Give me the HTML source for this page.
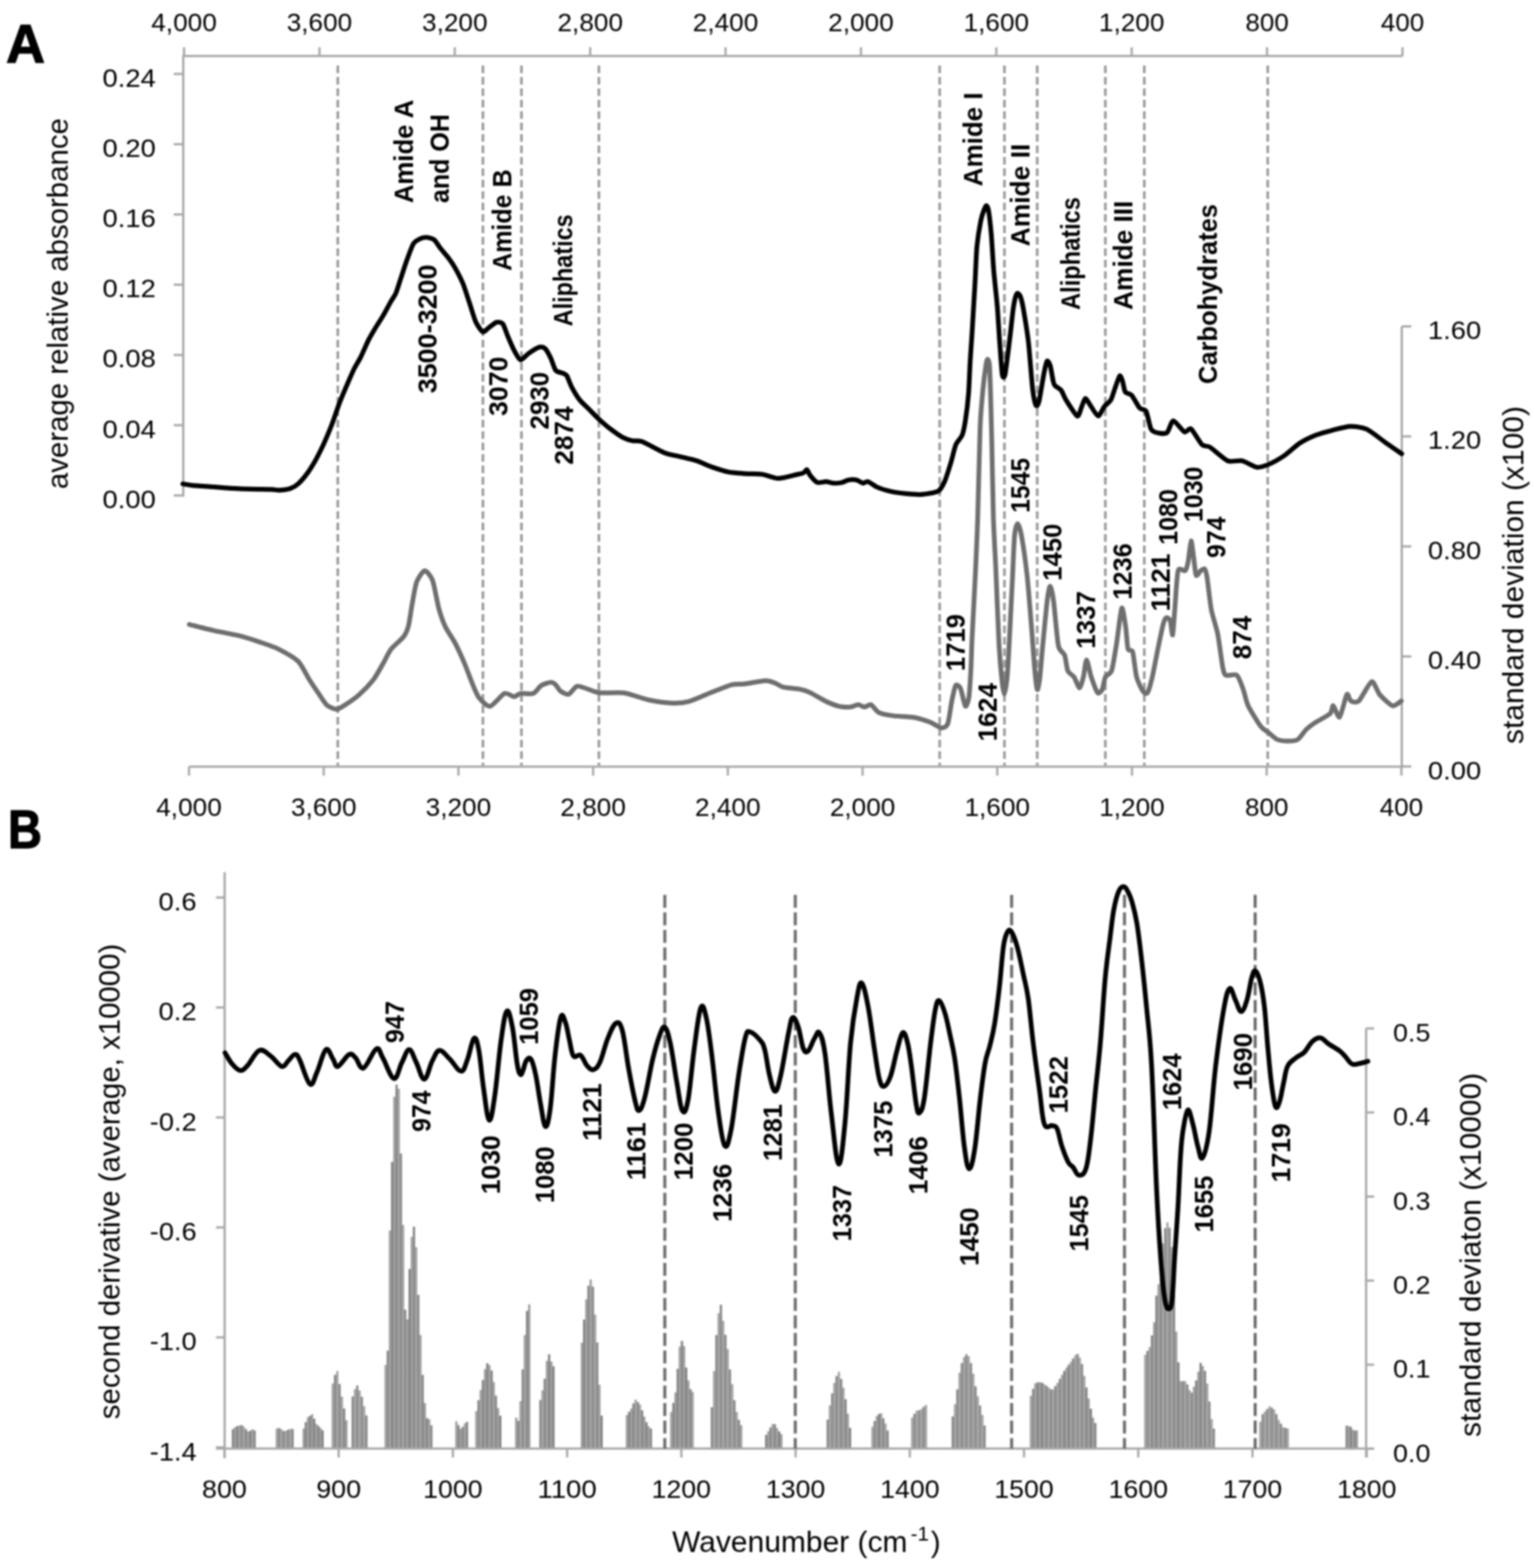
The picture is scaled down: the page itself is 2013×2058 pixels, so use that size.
<!DOCTYPE html><html><head><meta charset="utf-8"><title>FTIR spectra</title><style>html,body{margin:0;padding:0;background:#fff;}svg{display:block;filter:blur(1px);}text{font-family:'Liberation Sans', sans-serif;}</style></head><body>
<svg width="2013" height="2058" viewBox="0 0 2013 2058">
<rect width="2013" height="2058" fill="#fff"/>
<text x="8" y="81.5" font-size="70" text-anchor="start" font-weight="bold" fill="#000" textLength="51" lengthAdjust="spacingAndGlyphs" stroke="#000" stroke-width="1.5">A</text>
<text x="10.5" y="1113" font-size="70" text-anchor="start" font-weight="bold" fill="#000" textLength="44.5" lengthAdjust="spacingAndGlyphs" stroke="#000" stroke-width="1.5">B</text>
<line x1="241.5" y1="73.5" x2="1840.4" y2="73.5" stroke="#a9a9a9" stroke-width="3"/>
<line x1="241.5" y1="62" x2="241.5" y2="73.5" stroke="#a9a9a9" stroke-width="3"/>
<text x="241.5" y="41" font-size="34" text-anchor="middle" textLength="86" lengthAdjust="spacingAndGlyphs">4,000</text>
<line x1="419.2" y1="62" x2="419.2" y2="73.5" stroke="#a9a9a9" stroke-width="3"/>
<text x="419.2" y="41" font-size="34" text-anchor="middle" textLength="86" lengthAdjust="spacingAndGlyphs">3,600</text>
<line x1="596.8" y1="62" x2="596.8" y2="73.5" stroke="#a9a9a9" stroke-width="3"/>
<text x="596.8" y="41" font-size="34" text-anchor="middle" textLength="86" lengthAdjust="spacingAndGlyphs">3,200</text>
<line x1="774.5" y1="62" x2="774.5" y2="73.5" stroke="#a9a9a9" stroke-width="3"/>
<text x="774.5" y="41" font-size="34" text-anchor="middle" textLength="86" lengthAdjust="spacingAndGlyphs">2,800</text>
<line x1="952.1" y1="62" x2="952.1" y2="73.5" stroke="#a9a9a9" stroke-width="3"/>
<text x="952.1" y="41" font-size="34" text-anchor="middle" textLength="86" lengthAdjust="spacingAndGlyphs">2,400</text>
<line x1="1129.8" y1="62" x2="1129.8" y2="73.5" stroke="#a9a9a9" stroke-width="3"/>
<text x="1129.8" y="41" font-size="34" text-anchor="middle" textLength="86" lengthAdjust="spacingAndGlyphs">2,000</text>
<line x1="1307.4" y1="62" x2="1307.4" y2="73.5" stroke="#a9a9a9" stroke-width="3"/>
<text x="1307.4" y="41" font-size="34" text-anchor="middle" textLength="86" lengthAdjust="spacingAndGlyphs">1,600</text>
<line x1="1485.1" y1="62" x2="1485.1" y2="73.5" stroke="#a9a9a9" stroke-width="3"/>
<text x="1485.1" y="41" font-size="34" text-anchor="middle" textLength="86" lengthAdjust="spacingAndGlyphs">1,200</text>
<line x1="1662.7" y1="62" x2="1662.7" y2="73.5" stroke="#a9a9a9" stroke-width="3"/>
<text x="1662.7" y="41" font-size="34" text-anchor="middle" textLength="57" lengthAdjust="spacingAndGlyphs">800</text>
<line x1="1840.4" y1="62" x2="1840.4" y2="73.5" stroke="#a9a9a9" stroke-width="3"/>
<text x="1840.4" y="41" font-size="34" text-anchor="middle" textLength="57" lengthAdjust="spacingAndGlyphs">400</text>
<line x1="248" y1="1006.3" x2="1840.5" y2="1006.3" stroke="#a9a9a9" stroke-width="3"/>
<line x1="248" y1="1006.3" x2="248" y2="1018" stroke="#a9a9a9" stroke-width="3"/>
<text x="248" y="1071" font-size="34" text-anchor="middle" textLength="86" lengthAdjust="spacingAndGlyphs">4,000</text>
<line x1="424.8" y1="1006.3" x2="424.8" y2="1018" stroke="#a9a9a9" stroke-width="3"/>
<text x="424.8" y="1071" font-size="34" text-anchor="middle" textLength="86" lengthAdjust="spacingAndGlyphs">3,600</text>
<line x1="601.6" y1="1006.3" x2="601.6" y2="1018" stroke="#a9a9a9" stroke-width="3"/>
<text x="601.6" y="1071" font-size="34" text-anchor="middle" textLength="86" lengthAdjust="spacingAndGlyphs">3,200</text>
<line x1="778.3" y1="1006.3" x2="778.3" y2="1018" stroke="#a9a9a9" stroke-width="3"/>
<text x="778.3" y="1071" font-size="34" text-anchor="middle" textLength="86" lengthAdjust="spacingAndGlyphs">2,800</text>
<line x1="955.1" y1="1006.3" x2="955.1" y2="1018" stroke="#a9a9a9" stroke-width="3"/>
<text x="955.1" y="1071" font-size="34" text-anchor="middle" textLength="86" lengthAdjust="spacingAndGlyphs">2,400</text>
<line x1="1131.9" y1="1006.3" x2="1131.9" y2="1018" stroke="#a9a9a9" stroke-width="3"/>
<text x="1131.9" y="1071" font-size="34" text-anchor="middle" textLength="86" lengthAdjust="spacingAndGlyphs">2,000</text>
<line x1="1308.7" y1="1006.3" x2="1308.7" y2="1018" stroke="#a9a9a9" stroke-width="3"/>
<text x="1308.7" y="1071" font-size="34" text-anchor="middle" textLength="86" lengthAdjust="spacingAndGlyphs">1,600</text>
<line x1="1485.4" y1="1006.3" x2="1485.4" y2="1018" stroke="#a9a9a9" stroke-width="3"/>
<text x="1485.4" y="1071" font-size="34" text-anchor="middle" textLength="86" lengthAdjust="spacingAndGlyphs">1,200</text>
<line x1="1662.2" y1="1006.3" x2="1662.2" y2="1018" stroke="#a9a9a9" stroke-width="3"/>
<text x="1662.2" y="1071" font-size="34" text-anchor="middle" textLength="57" lengthAdjust="spacingAndGlyphs">800</text>
<line x1="1839" y1="1006.3" x2="1839" y2="1018" stroke="#a9a9a9" stroke-width="3"/>
<text x="1839" y="1071" font-size="34" text-anchor="middle" textLength="57" lengthAdjust="spacingAndGlyphs">400</text>
<line x1="240.5" y1="72" x2="240.5" y2="651.5" stroke="#a9a9a9" stroke-width="3"/>
<line x1="228" y1="650.3" x2="240.5" y2="650.3" stroke="#a9a9a9" stroke-width="3"/>
<text x="204.5" y="666.8" font-size="34" text-anchor="end" textLength="70" lengthAdjust="spacingAndGlyphs">0.00</text>
<line x1="228" y1="558.1" x2="240.5" y2="558.1" stroke="#a9a9a9" stroke-width="3"/>
<text x="204.5" y="574.6" font-size="34" text-anchor="end" textLength="70" lengthAdjust="spacingAndGlyphs">0.04</text>
<line x1="228" y1="465.9" x2="240.5" y2="465.9" stroke="#a9a9a9" stroke-width="3"/>
<text x="204.5" y="482.4" font-size="34" text-anchor="end" textLength="70" lengthAdjust="spacingAndGlyphs">0.08</text>
<line x1="228" y1="373.7" x2="240.5" y2="373.7" stroke="#a9a9a9" stroke-width="3"/>
<text x="204.5" y="390.2" font-size="34" text-anchor="end" textLength="70" lengthAdjust="spacingAndGlyphs">0.12</text>
<line x1="228" y1="281.5" x2="240.5" y2="281.5" stroke="#a9a9a9" stroke-width="3"/>
<text x="204.5" y="298" font-size="34" text-anchor="end" textLength="70" lengthAdjust="spacingAndGlyphs">0.16</text>
<line x1="228" y1="189.3" x2="240.5" y2="189.3" stroke="#a9a9a9" stroke-width="3"/>
<text x="204.5" y="205.8" font-size="34" text-anchor="end" textLength="70" lengthAdjust="spacingAndGlyphs">0.20</text>
<line x1="228" y1="97.1" x2="240.5" y2="97.1" stroke="#a9a9a9" stroke-width="3"/>
<text x="204.5" y="113.6" font-size="34" text-anchor="end" textLength="70" lengthAdjust="spacingAndGlyphs">0.24</text>
<text x="88.5" y="642" font-size="38.5" text-anchor="start" textLength="487" lengthAdjust="spacingAndGlyphs" transform="rotate(-90 88.5 642)">average relative absorbance</text>
<line x1="1839.5" y1="428.5" x2="1839.5" y2="1007.8" stroke="#a9a9a9" stroke-width="3"/>
<line x1="1839.5" y1="1006" x2="1852" y2="1006" stroke="#a9a9a9" stroke-width="3"/>
<text x="1873.8" y="1022.5" font-size="34" text-anchor="start" textLength="70" lengthAdjust="spacingAndGlyphs">0.00</text>
<line x1="1839.5" y1="861.6" x2="1852" y2="861.6" stroke="#a9a9a9" stroke-width="3"/>
<text x="1873.8" y="878.1" font-size="34" text-anchor="start" textLength="70" lengthAdjust="spacingAndGlyphs">0.40</text>
<line x1="1839.5" y1="717.2" x2="1852" y2="717.2" stroke="#a9a9a9" stroke-width="3"/>
<text x="1873.8" y="733.7" font-size="34" text-anchor="start" textLength="70" lengthAdjust="spacingAndGlyphs">0.80</text>
<line x1="1839.5" y1="572.8" x2="1852" y2="572.8" stroke="#a9a9a9" stroke-width="3"/>
<text x="1873.8" y="589.3" font-size="34" text-anchor="start" textLength="70" lengthAdjust="spacingAndGlyphs">1.20</text>
<line x1="1839.5" y1="428.4" x2="1852" y2="428.4" stroke="#a9a9a9" stroke-width="3"/>
<text x="1873.8" y="444.9" font-size="34" text-anchor="start" textLength="70" lengthAdjust="spacingAndGlyphs">1.60</text>
<text x="1999" y="976.5" font-size="38.5" text-anchor="start" textLength="443.5" lengthAdjust="spacingAndGlyphs" transform="rotate(-90 1999 976.5)">standard deviation (x100)</text>
<line x1="443.3" y1="86" x2="443.3" y2="1004.8" stroke="#999" stroke-width="3.4" stroke-dasharray="10 5"/>
<line x1="633.7" y1="86" x2="633.7" y2="1004.8" stroke="#999" stroke-width="3.4" stroke-dasharray="10 5"/>
<line x1="684.3" y1="86" x2="684.3" y2="1004.8" stroke="#999" stroke-width="3.4" stroke-dasharray="10 5"/>
<line x1="785.9" y1="86" x2="785.9" y2="1004.8" stroke="#999" stroke-width="3.4" stroke-dasharray="10 5"/>
<line x1="1233.1" y1="86" x2="1233.1" y2="1004.8" stroke="#999" stroke-width="3.4" stroke-dasharray="10 5"/>
<line x1="1318.1" y1="86" x2="1318.1" y2="1004.8" stroke="#999" stroke-width="3.4" stroke-dasharray="10 5"/>
<line x1="1361.1" y1="86" x2="1361.1" y2="1004.8" stroke="#999" stroke-width="3.4" stroke-dasharray="10 5"/>
<line x1="1450.5" y1="86" x2="1450.5" y2="1004.8" stroke="#999" stroke-width="3.4" stroke-dasharray="10 5"/>
<line x1="1501.6" y1="86" x2="1501.6" y2="1004.8" stroke="#999" stroke-width="3.4" stroke-dasharray="10 5"/>
<line x1="1663.6" y1="86" x2="1663.6" y2="1004.8" stroke="#999" stroke-width="3.4" stroke-dasharray="10 5"/>
<path d="M248.4,819.6 C252.3,820.6 274.4,826.3 282,828 C289.6,829.7 306.6,832.6 313.5,834.3 C320.4,836 334.7,840.6 340.8,842.7 C346.9,844.8 360.1,849.2 366,852.2 C371.9,855.2 386.6,863.3 391.3,868 C396,872.7 402.8,887.1 406,892.1 C409.2,897.1 415.9,907.1 418.6,911 C421.3,914.9 426.4,923.4 429.1,925.7 C431.8,928 439,931 441.7,931 C444.4,931 448.8,927.9 452.2,925.7 C455.6,923.5 466.7,915.9 471.1,912 C475.5,908.1 486.3,896.9 490,892.1 C493.7,887.3 499.9,875.8 502.6,871.1 C505.3,866.4 509.9,856.4 513.1,852.2 C516.3,848 527.2,839.1 529.9,835.4 C532.6,831.7 535,825.4 536.2,820.7 C537.4,816 539.2,802.1 540.4,795.5 C541.6,788.9 544.7,769.4 546.7,764 C548.7,758.6 554.8,749.5 557.2,749.2 C559.7,748.9 565.5,755.9 567.7,761.8 C569.9,767.7 574.1,792.6 576.1,799.7 C578.1,806.8 582,817.7 584.5,822.8 C587,827.9 594.2,838.2 597.1,843.8 C600,849.4 607,864.7 609.7,871.1 C612.4,877.5 618.1,893.2 620.3,898.4 C622.5,903.6 625.7,912.2 628.4,915.5 C631.1,918.8 639.2,927.6 643.1,927 C647,926.4 658.3,911.7 662,910.2 C665.7,908.7 672.1,914.4 674.6,914.4 C677.1,914.4 680.1,910.7 683,910.2 C685.9,909.7 696.6,911.4 699.8,910.2 C703,909 707.6,901.4 710.3,899.7 C713,898 720.7,895.6 722.9,895.5 C725.1,895.4 727.7,897.3 729.2,898.7 C730.7,900.1 733.5,905.6 735.5,907.1 C737.5,908.6 743.5,912 746,911.3 C748.5,910.6 754.1,901.8 756.6,900.8 C759.1,899.8 763.7,901.9 767.1,902.9 C770.5,903.9 779.9,908.4 786,909.2 C792.1,910 812,908.5 819.6,909.6 C827.2,910.7 843.8,917.1 851.1,918.6 C858.5,920.1 876.5,922.6 882.6,922.8 C888.7,923 897.5,922.4 903.6,920.7 C909.7,919 928.5,910.7 935.1,908.1 C941.7,905.5 955.4,899.9 960.3,898.7 C965.2,897.5 971.9,898.2 977.1,897.6 C982.3,897 999.9,893.5 1004.5,893.4 C1009.1,893.3 1014.1,895.4 1016.8,896.4 C1019.5,897.4 1023.4,900.7 1027.3,901.7 C1031.2,902.7 1046.2,903.9 1050.4,904.8 C1054.6,905.7 1059.1,907.2 1063,909 C1066.9,910.8 1079.6,918.5 1084,920.6 C1088.4,922.7 1097.1,926 1100.8,926.9 C1104.5,927.8 1112.6,928.2 1115.5,928 C1118.4,927.8 1123.8,924.8 1126,924.8 C1128.2,924.8 1132.5,928 1134.5,928 C1136.5,928 1140.7,923.9 1142.9,924.8 C1145.1,925.7 1150,933.6 1153.4,935.3 C1156.8,937 1166.9,938.8 1172.3,939.5 C1177.7,940.2 1194,940.6 1199.6,941.6 C1205.2,942.6 1216.4,946.3 1220.6,947.9 C1224.8,949.5 1232.6,955.1 1235.3,955.3 C1238,955.5 1242.1,954 1243.7,950 C1245.3,946 1247.7,926.5 1248.9,920.6 C1250.1,914.7 1252.8,901.6 1254.2,899.6 C1255.6,897.6 1259,900.6 1260.5,903.8 C1262,907 1265.5,925.6 1266.8,926.9 C1268.1,928.2 1270.7,920.5 1271.5,915 C1272.3,909.5 1273.5,888.8 1274,880 C1274.5,871.2 1275.1,848.8 1275.5,840 C1275.9,831.2 1276.7,816.4 1277.3,805 C1277.9,793.6 1279.8,756.6 1280.5,742 C1281.2,727.4 1282.3,701.2 1283,680 C1283.7,658.8 1285.4,579.8 1286.2,560 C1287,540.2 1289.1,519.6 1290,510 C1290.9,500.4 1293.3,482.5 1294,478 C1294.7,473.5 1295.7,471.3 1296.2,471.5 C1296.7,471.7 1298,472 1298.5,480 C1299,488 1300.2,528.3 1300.5,540 C1300.8,551.7 1301.1,563.7 1301.5,580 C1301.9,596.3 1303,660.8 1303.6,680 C1304.2,699.2 1305.8,725.3 1306.7,744.8 C1307.6,764.3 1310,829.5 1311,847 C1312,864.5 1314.2,887.5 1315,895 C1315.8,902.5 1317.3,911.2 1318,911.2 C1318.7,911.2 1320.4,900 1321,895 C1321.6,890 1322.2,883.2 1323.1,868.1 C1324,853 1327.3,784.6 1328.3,765.4 C1329.3,746.2 1330.5,712.9 1331.3,703.8 C1332.1,694.7 1334.4,687.3 1335.5,687.3 C1336.6,687.3 1339.2,695.9 1340.6,703.8 C1342,711.7 1346.2,740.7 1347.8,755.1 C1349.4,769.5 1352.8,813 1353.9,827 C1355,841 1356.7,865.9 1357.5,875 C1358.3,884.1 1360.3,903.2 1361.1,905 C1361.9,906.8 1363.7,896.7 1364.5,890 C1365.3,883.3 1367.1,859.6 1368.3,847.5 C1369.5,835.4 1373.3,795 1374.5,785.9 C1375.7,776.8 1377.2,769 1378.2,769.5 C1379.2,770 1381.5,780.9 1382.7,790 C1383.9,799.1 1387.2,839.3 1388.9,847.5 C1390.6,855.7 1395.7,856.1 1397.1,859.9 C1398.5,863.7 1399.8,877.1 1401.2,880.4 C1402.6,883.7 1407.6,886 1409.4,888.6 C1411.2,891.2 1415.2,903 1416.6,903 C1418,903 1420.6,892.9 1421.7,888.6 C1422.8,884.3 1424.6,866 1425.8,866 C1427,866 1430.3,883.6 1432,888.6 C1433.7,893.6 1438.5,907.3 1440.2,909.2 C1441.9,911.1 1445.2,907.4 1446.4,905 C1447.6,902.6 1449.1,891.5 1450.5,888.6 C1451.9,885.7 1457,885.2 1458.7,880.4 C1460.4,875.6 1463.2,857.1 1464.8,847.5 C1466.4,837.9 1470.6,801.1 1472,798.2 C1473.4,795.3 1476.2,816.7 1477.2,822.9 C1478.2,829.1 1479.1,847.8 1480.2,851.6 C1481.3,855.4 1485.1,851.5 1486.4,855.8 C1487.7,860.1 1489.9,882.6 1491.5,888.6 C1493.1,894.6 1498.1,904.7 1499.8,907.1 C1501.5,909.5 1504.5,911.4 1505.9,909.2 C1507.3,907 1510.4,895.8 1512.1,888.6 C1513.8,881.4 1518.6,855.6 1520.3,847.5 C1522,839.4 1525.3,823.1 1526.5,818.8 C1527.7,814.5 1529.5,811.1 1530.6,810.6 C1531.7,810.1 1534.7,812.1 1535.7,814.7 C1536.7,817.3 1538.1,835.4 1538.8,833.2 C1539.5,831 1541.1,806 1541.9,796.2 C1542.7,786.4 1544.4,754.5 1546,749 C1547.6,743.5 1553.6,750.4 1555.2,749 C1556.8,747.6 1558.4,741.2 1559.3,736.6 C1560.2,732 1562.2,710.4 1563,709.9 C1563.8,709.4 1565.7,727.2 1566.5,732.5 C1567.3,737.8 1568.5,753.2 1569.6,755.1 C1570.7,757 1574.4,750 1575.7,749 C1577,748 1579.9,745.9 1580.9,746.9 C1581.9,747.9 1583,751.7 1584,757.9 C1585,764.1 1587.9,791.4 1589.5,800 C1591.1,808.6 1596.2,823 1597.9,831.6 C1599.6,840.2 1603,867.3 1604.2,873.7 C1605.4,880.1 1606.2,884.8 1608.4,886.3 C1610.6,887.8 1620.5,884.1 1623.2,886.3 C1625.9,888.5 1629.9,900.6 1631.6,905.3 C1633.3,910 1635.2,920.7 1637.9,926.3 C1640.6,931.9 1651.5,949.5 1654.7,953.7 C1657.9,957.9 1662.8,960.1 1665.3,962.1 C1667.8,964.1 1672.9,969.3 1675.8,970.5 C1678.7,971.7 1687.3,972.6 1690.5,972.6 C1693.7,972.6 1700.5,972.2 1703.2,970.5 C1705.9,968.8 1711.2,960.4 1713.7,957.9 C1716.2,955.4 1720.5,952 1724.2,949.5 C1727.9,947 1742.3,939.5 1745.3,936.8 C1748.3,934.1 1748,925.8 1749.5,926.3 C1751,926.8 1755.8,942.8 1757.9,941.1 C1760,939.4 1765.7,914.1 1767.4,911.6 C1769.1,909.1 1770.8,919 1772.6,920 C1774.4,921 1780,923 1783.2,920 C1786.4,917 1796.8,895.7 1800,894.7 C1803.2,893.7 1807.3,907.9 1810.5,911.6 C1813.7,915.3 1824.1,925.3 1827.4,926.3 C1830.7,927.3 1837.6,920.7 1838.9,920" fill="none" stroke="#6e6e6e" stroke-width="6.2" stroke-linejoin="round" stroke-linecap="round"/>
<path d="M240,635 C241.5,635.2 247.7,636.6 252.6,637.1 C257.5,637.6 274.9,638.7 282,639.2 C289.1,639.7 304.9,640.9 313.5,641.3 C322.1,641.7 349.4,642.2 355.5,642.4 C361.6,642.6 363,643.5 366,643.4 C369,643.3 377.8,642.3 380.8,641.3 C383.8,640.3 388.6,637.5 391.3,635 C394,632.5 401.2,624 403.9,620.3 C406.6,616.6 411.9,607.9 414.4,603.5 C416.8,599.1 422.4,587.9 424.9,582.5 C427.3,577.1 432.9,563.7 435.4,557.3 C437.8,550.9 443.4,534.3 445.9,527.9 C448.3,521.5 454.2,507.8 456.4,502.7 C458.6,497.6 462.8,487.7 464.8,483.8 C466.8,479.9 471,473.4 473.2,469 C475.4,464.6 481.5,450.4 483.7,446 C485.9,441.6 489.9,435 492.1,431.3 C494.3,427.6 500.2,418.7 502.6,414.5 C505.1,410.3 511.1,398.9 513.1,395.5 C515.1,392.1 517.9,388.4 519.4,385 C520.9,381.6 524,371.2 525.7,366.1 C527.4,361 532.1,346.3 534.1,340.9 C536.1,335.5 540.5,323.1 542.5,319.9 C544.5,316.7 548.9,314.6 550.9,313.6 C552.9,312.6 557.1,311.4 559.3,311.5 C561.5,311.6 567.6,313 569.8,314.7 C572,316.4 576,323.4 578.2,326.2 C580.4,329 586.5,335.9 588.7,338.8 C590.9,341.7 594.9,347.5 597.1,351.4 C599.3,355.3 605.4,367 607.6,372.4 C609.8,377.8 614.1,391.7 616.1,397.6 C618.1,403.5 622.4,418.5 624.5,422.9 C626.6,427.3 631.8,434.8 633.7,435.7 C635.6,436.6 638.9,431.9 641,430.4 C643.1,428.9 649.3,423.6 651.5,423 C653.7,422.4 658.2,423.1 659.9,425.2 C661.6,427.3 664.5,436.9 666.2,440.9 C667.9,444.9 672.6,456.1 674.6,459.8 C676.6,463.5 680.8,471.9 683,472.4 C685.2,472.9 690.6,466 693.5,464 C696.4,462 705.6,456.3 708.2,455.6 C710.8,454.9 713.9,456 715.6,457.7 C717.3,459.4 721.3,467 722.9,470.3 C724.5,473.6 727.2,483.8 729.2,486.1 C731.2,488.4 738,489.4 739.7,490.3 C741.4,491.2 742.8,491.3 744,493.4 C745.2,495.5 748.3,504.5 750.3,508.2 C752.3,511.9 758.1,521.6 760.8,525 C763.5,528.4 770.5,534.7 773.4,537.6 C776.3,540.5 782.8,547.3 786,550.2 C789.2,553.1 797,560 800.7,562.8 C804.4,565.6 814.1,572.5 817.5,574.3 C820.9,576.1 827.2,577.9 830.1,578.5 C833,579.1 837.8,577.8 842.7,579.6 C847.6,581.4 866.2,592 872.1,594.3 C878,596.6 888.2,598.3 893.1,599.5 C898,600.7 909.2,603.2 914.1,604.8 C919,606.4 930.2,611.5 935.1,613.2 C940,614.9 951.2,618.5 956.1,619.5 C961,620.5 972,621.2 977.1,621.6 C982.2,622 994.9,621.8 1000,622.5 C1005.1,623.2 1016.1,627.8 1021,627.9 C1025.9,628 1038.1,624.6 1042,623.7 C1045.9,622.8 1052.6,621.4 1054.6,620.5 C1056.6,619.6 1057.8,615.9 1058.8,616.3 C1059.8,616.7 1061.4,621.7 1063,623.7 C1064.6,625.7 1070,632.2 1072.5,633.2 C1075,634.2 1081.4,632 1084,632.1 C1086.6,632.2 1092,634.1 1094.5,634.2 C1097,634.3 1102.8,633.7 1105,633.2 C1107.2,632.7 1111.2,630.4 1113.4,630 C1115.6,629.6 1121.8,629.5 1124,630 C1126.2,630.5 1130.7,634 1132.4,634.2 C1134.1,634.4 1136.5,631.5 1138.7,632.1 C1140.9,632.7 1147.9,638 1151.3,639.5 C1154.7,641 1163.6,643.7 1168,644.7 C1172.4,645.7 1184.1,647.4 1189,647.9 C1193.9,648.4 1205.1,649.3 1210,648.9 C1214.9,648.5 1227.6,646.7 1231,644.7 C1234.4,642.7 1237.5,636.5 1239.5,632.1 C1241.5,627.7 1246.2,612.5 1247.9,606.9 C1249.6,601.3 1252.5,588 1254.2,583.8 C1255.9,579.6 1261.1,574.9 1262.6,571.2 C1264.1,567.5 1265.8,558.7 1266.8,552.3 C1267.8,545.9 1270.3,525.7 1271,516.6 C1271.7,507.5 1272.6,483.1 1273.1,474.5 C1273.6,465.9 1274.7,450.5 1275.2,443 C1275.7,435.5 1276.7,418.4 1277.2,410 C1277.7,401.6 1278.9,380.7 1279.5,370.6 C1280.1,360.5 1281.1,332.7 1282,323.3 C1282.9,313.9 1285.9,295.6 1287,290 C1288.1,284.4 1290.6,277.3 1291.5,275 C1292.4,272.7 1293.8,269.6 1294.5,270 C1295.2,270.4 1296.8,273.6 1297.5,278 C1298.2,282.4 1300,298.6 1300.8,307.6 C1301.6,316.6 1303.1,343.8 1304,354.8 C1304.9,365.8 1307.8,390.9 1308.7,402 C1309.6,413.1 1311.1,439.5 1311.9,450 C1312.7,460.5 1314.5,487.1 1315.3,492 C1316.1,496.9 1318,495.1 1318.8,492 C1319.6,488.9 1321.7,471.1 1322.5,465 C1323.3,458.9 1324.8,446.4 1325.6,440 C1326.4,433.6 1328.3,415.6 1329,410 C1329.7,404.4 1331.3,394.9 1332,392 C1332.7,389.1 1334.2,385.5 1335,385 C1335.8,384.5 1337.7,386.5 1338.5,388 C1339.3,389.5 1340.7,394.5 1341.5,398 C1342.3,401.5 1344,411.7 1345,417.8 C1346,423.9 1348.5,439.2 1349.7,450 C1350.9,460.8 1353.9,500.4 1355,510 C1356.1,519.6 1358.4,530 1359.4,532 C1360.4,534 1362.2,531.7 1363.4,527 C1364.6,522.3 1368.5,497.5 1369.7,491.3 C1370.9,485.1 1373,475.3 1374,474 C1375,472.7 1377.3,477 1378.2,480 C1379.1,483 1381.3,497 1382,500 C1382.7,503 1383,504.6 1384.2,506 C1385.4,507.4 1390.9,510.2 1392.6,512.4 C1394.3,514.6 1396.5,521.1 1398.9,525 C1401.4,528.9 1411.3,544.8 1413.6,546 C1415.9,547.2 1417.8,537.7 1419,535 C1420.2,532.3 1422.8,523.3 1424.1,522.9 C1425.4,522.5 1428.4,528.6 1430.4,531.3 C1432.4,534 1438.7,545.8 1440.9,546 C1443.1,546.2 1447.3,535.9 1449.3,533.4 C1451.3,530.9 1456.1,527.7 1457.7,525 C1459.3,522.3 1461.6,513.7 1463,510 C1464.4,506.3 1468.1,494.6 1469.3,493.4 C1470.5,492.2 1472.1,497.5 1473,500 C1473.9,502.5 1475.2,512.3 1476.6,514.5 C1478,516.7 1482.8,516.2 1485,518.7 C1487.2,521.2 1493.3,533 1495.5,535.5 C1497.7,538 1502.3,536.5 1504,539.7 C1505.7,542.9 1508.6,559.5 1510.3,562.8 C1512,566.1 1516.2,567.4 1518.7,568 C1521.2,568.6 1528.8,569.8 1531.3,568 C1533.8,566.2 1537,552.4 1539.7,552.3 C1542.4,552.2 1551.7,565.8 1554.4,567 C1557.1,568.2 1560.1,560.8 1562.8,562.8 C1565.5,564.8 1574.6,581 1577.5,583.8 C1580.4,586.6 1584.1,584.5 1588,587 C1591.9,589.5 1606.2,602.7 1611.1,604.8 C1616,606.9 1625.6,603.8 1630,604.8 C1634.4,605.8 1645,612.6 1648.9,613.2 C1652.8,613.8 1659.4,611.7 1663.6,610 C1667.8,608.3 1679.7,601.8 1684.6,598.5 C1689.5,595.2 1700.7,584.9 1705.6,581.7 C1710.5,578.5 1721.7,573.2 1726.6,571.2 C1731.5,569.2 1742.3,566.2 1747.6,564.9 C1752.9,563.6 1766.6,559.9 1771.9,559.7 C1777.2,559.5 1788,560.8 1793.4,563.3 C1798.8,565.8 1813.2,577.4 1818.6,581.2 C1824,585 1837,593.9 1839.4,595.6" fill="none" stroke="#000" stroke-width="6.2" stroke-linejoin="round" stroke-linecap="round"/>
<text x="542" y="266.5" font-size="35" text-anchor="start" font-weight="bold" fill="#000" textLength="135.6" lengthAdjust="spacingAndGlyphs" transform="rotate(-90 542 266.5)">Amide A</text>
<text x="588.8" y="266.5" font-size="35" text-anchor="start" font-weight="bold" fill="#000" textLength="116.7" lengthAdjust="spacingAndGlyphs" transform="rotate(-90 588.8 266.5)">and OH</text>
<text x="671.3" y="355.5" font-size="35" text-anchor="start" font-weight="bold" fill="#000" textLength="133.1" lengthAdjust="spacingAndGlyphs" transform="rotate(-90 671.3 355.5)">Amide B</text>
<text x="751.1" y="428.3" font-size="35" text-anchor="start" font-weight="bold" fill="#000" textLength="147" lengthAdjust="spacingAndGlyphs" transform="rotate(-90 751.1 428.3)">Aliphatics</text>
<text x="572.9" y="516.3" font-size="35" text-anchor="start" font-weight="bold" fill="#000" textLength="169.3" lengthAdjust="spacingAndGlyphs" transform="rotate(-90 572.9 516.3)">3500-3200</text>
<text x="666.1" y="546" font-size="35" text-anchor="start" font-weight="bold" fill="#000" textLength="78" lengthAdjust="spacingAndGlyphs" transform="rotate(-90 666.1 546)">3070</text>
<text x="719.7" y="563.8" font-size="35" text-anchor="start" font-weight="bold" fill="#000" textLength="75.8" lengthAdjust="spacingAndGlyphs" transform="rotate(-90 719.7 563.8)">2930</text>
<text x="752.2" y="610" font-size="35" text-anchor="start" font-weight="bold" fill="#000" textLength="76.6" lengthAdjust="spacingAndGlyphs" transform="rotate(-90 752.2 610)">2874</text>
<text x="1288.5" y="244.5" font-size="35" text-anchor="start" font-weight="bold" fill="#000" textLength="123.2" lengthAdjust="spacingAndGlyphs" transform="rotate(-90 1288.5 244.5)">Amide I</text>
<text x="1351.1" y="323.3" font-size="35" text-anchor="start" font-weight="bold" fill="#000" textLength="134.7" lengthAdjust="spacingAndGlyphs" transform="rotate(-90 1351.1 323.3)">Amide II</text>
<text x="1417.3" y="406.8" font-size="35" text-anchor="start" font-weight="bold" fill="#000" textLength="148.1" lengthAdjust="spacingAndGlyphs" transform="rotate(-90 1417.3 406.8)">Aliphatics</text>
<text x="1485.9" y="406.8" font-size="35" text-anchor="start" font-weight="bold" fill="#000" textLength="143.4" lengthAdjust="spacingAndGlyphs" transform="rotate(-90 1485.9 406.8)">Amide III</text>
<text x="1596.7" y="504" font-size="35" text-anchor="start" font-weight="bold" fill="#000" textLength="236.2" lengthAdjust="spacingAndGlyphs" transform="rotate(-90 1596.7 504)">Carbohydrates</text>
<text x="1351" y="673" font-size="35" text-anchor="start" font-weight="bold" fill="#000" textLength="72" lengthAdjust="spacingAndGlyphs" transform="rotate(-90 1351 673)">1545</text>
<text x="1393.1" y="762.3" font-size="35" text-anchor="start" font-weight="bold" fill="#000" textLength="75" lengthAdjust="spacingAndGlyphs" transform="rotate(-90 1393.1 762.3)">1450</text>
<text x="1437.3" y="851.6" font-size="35" text-anchor="start" font-weight="bold" fill="#000" textLength="75.9" lengthAdjust="spacingAndGlyphs" transform="rotate(-90 1437.3 851.6)">1337</text>
<text x="1484.5" y="787" font-size="35" text-anchor="start" font-weight="bold" fill="#000" textLength="74" lengthAdjust="spacingAndGlyphs" transform="rotate(-90 1484.5 787)">1236</text>
<text x="1534.8" y="802.4" font-size="35" text-anchor="start" font-weight="bold" fill="#000" textLength="76" lengthAdjust="spacingAndGlyphs" transform="rotate(-90 1534.8 802.4)">1121</text>
<text x="1545.1" y="715" font-size="35" text-anchor="start" font-weight="bold" fill="#000" textLength="73" lengthAdjust="spacingAndGlyphs" transform="rotate(-90 1545.1 715)">1080</text>
<text x="1578" y="685.3" font-size="35" text-anchor="start" font-weight="bold" fill="#000" textLength="72.9" lengthAdjust="spacingAndGlyphs" transform="rotate(-90 1578 685.3)">1030</text>
<text x="1608.3" y="732.6" font-size="35" text-anchor="start" font-weight="bold" fill="#000" textLength="54.7" lengthAdjust="spacingAndGlyphs" transform="rotate(-90 1608.3 732.6)">974</text>
<text x="1642" y="865.3" font-size="35" text-anchor="start" font-weight="bold" fill="#000" textLength="56.9" lengthAdjust="spacingAndGlyphs" transform="rotate(-90 1642 865.3)">874</text>
<text x="1265.7" y="880.7" font-size="35" text-anchor="start" font-weight="bold" fill="#000" textLength="74.7" lengthAdjust="spacingAndGlyphs" transform="rotate(-90 1265.7 880.7)">1719</text>
<text x="1307.7" y="973.1" font-size="35" text-anchor="start" font-weight="bold" fill="#000" textLength="76.7" lengthAdjust="spacingAndGlyphs" transform="rotate(-90 1307.7 973.1)">1624</text>
<path d="M307,1901.3V1873.3H310V1901.3zM312.7,1901.3V1871.1H315.7V1901.3zM318.4,1901.3V1872.5H321.4V1901.3zM324.1,1901.3V1879H327.1V1901.3zM329.8,1901.3V1875.9H332.8V1901.3zM361.8,1901.3V1875.1H364.8V1901.3zM367.7,1901.3V1875.8H370.7V1901.3zM373.6,1901.3V1878H376.6V1901.3zM379.5,1901.3V1875.5H382.4V1901.3zM397.1,1901.3V1875.1H400.1V1901.3zM402.6,1901.3V1860.3H405.6V1901.3zM408.1,1901.3V1856.2H411.1V1901.3zM413.6,1901.3V1869.1H416.6V1901.3zM419.1,1901.3V1874.2H422.1V1901.3zM435.2,1901.3V1816H438.2V1901.3zM441.2,1901.3V1799.4H444.1V1901.3zM447.2,1901.3V1833H450.1V1901.3zM453.1,1901.3V1864H456.1V1901.3zM464.4,1901.3V1823.3H467.4V1901.3zM470.4,1901.3V1825H473.3V1901.3zM476.3,1901.3V1845.7H479.3V1901.3zM504.6,1901.3V1791.4H507.5V1901.3zM510.3,1901.3V1614.9H513.2V1901.3zM516,1901.3V1439.5H518.9V1901.3zM521.7,1901.3V1429.1H524.7V1901.3zM527.4,1901.3V1607.7H530.4V1901.3zM533.1,1901.3V1731.7H536.1V1901.3zM538.9,1901.3V1623.5H541.8V1901.3zM544.6,1901.3V1637H547.5V1901.3zM550.3,1901.3V1752.2H553.2V1901.3zM556,1901.3V1841.4H559V1901.3zM561.7,1901.3V1862.8H564.7V1901.3zM597.4,1901.3V1865.5H600.4V1901.3zM603,1901.3V1875.3H605.9V1901.3zM608.6,1901.3V1868.3H611.5V1901.3zM623.6,1901.3V1852H626.6V1901.3zM629.4,1901.3V1824.3H632.3V1901.3zM635,1901.3V1797H638V1901.3zM640.8,1901.3V1791.5H643.7V1901.3zM646.4,1901.3V1813.7H649.4V1901.3zM652.1,1901.3V1848.1H655.1V1901.3zM675.9,1901.3V1860.4H678.9V1901.3zM681.6,1901.3V1838.9H684.6V1901.3zM687.3,1901.3V1752.3H690.3V1901.3zM693,1901.3V1712H696V1901.3zM710.5,1901.3V1824.7H713.5V1901.3zM716.3,1901.3V1786H719.2V1901.3zM722,1901.3V1786.9H725V1901.3zM762.1,1901.3V1762.3H765V1901.3zM767.9,1901.3V1705.5H770.8V1901.3zM773.6,1901.3V1679.3H776.6V1901.3zM779.4,1901.3V1725.4H782.4V1901.3zM785.2,1901.3V1817.4H788.1V1901.3zM821.2,1901.3V1857.2H824.2V1901.3zM826.9,1901.3V1848.7H829.9V1901.3zM832.6,1901.3V1836.9H835.6V1901.3zM838.3,1901.3V1843.5H841.3V1901.3zM844,1901.3V1859.2H847V1901.3zM849.8,1901.3V1872H852.7V1901.3zM879.4,1901.3V1853.2H882.4V1901.3zM885,1901.3V1827.4H888V1901.3zM890.6,1901.3V1767.5H893.6V1901.3zM896.2,1901.3V1766.8H899.2V1901.3zM901.8,1901.3V1811.8H904.8V1901.3zM907.4,1901.3V1826.9H910.4V1901.3zM935.7,1901.3V1799.6H938.6V1901.3zM941.6,1901.3V1723.4H944.5V1901.3zM947.5,1901.3V1733.5H950.4V1901.3zM953.4,1901.3V1770.6H956.4V1901.3zM959.3,1901.3V1816.7H962.3V1901.3zM965.2,1901.3V1853.2H968.2V1901.3zM971.1,1901.3V1870.6H974.1V1901.3zM1006.8,1901.3V1878.4H1009.8V1901.3zM1012.5,1901.3V1869.1H1015.5V1901.3zM1018.2,1901.3V1874.2H1021.1V1901.3zM1023.9,1901.3V1882.2H1026.8V1901.3zM1087.6,1901.3V1844.6H1090.6V1901.3zM1093.5,1901.3V1815H1096.5V1901.3zM1099.4,1901.3V1800.5H1102.3V1901.3zM1105.2,1901.3V1821.3H1108.2V1901.3zM1111.1,1901.3V1855.6H1114.1V1901.3zM1143.5,1901.3V1872.5H1146.5V1901.3zM1149.2,1901.3V1858.5H1152.1V1901.3zM1154.8,1901.3V1854.9H1157.8V1901.3zM1160.5,1901.3V1868.6H1163.4V1901.3zM1195.6,1901.3V1860.5H1198.6V1901.3zM1201.6,1901.3V1851.5H1204.5V1901.3zM1207.6,1901.3V1849.6H1210.5V1901.3zM1213.5,1901.3V1844H1216.5V1901.3zM1251.8,1901.3V1843H1254.7V1901.3zM1257.8,1901.3V1801.7H1260.7V1901.3zM1263.7,1901.3V1781.1H1266.7V1901.3zM1269.7,1901.3V1780H1272.6V1901.3zM1275.6,1901.3V1803H1278.6V1901.3zM1281.6,1901.3V1832.4H1284.5V1901.3zM1287.6,1901.3V1857H1290.5V1901.3zM1351.4,1901.3V1831.9H1354.3V1901.3zM1357.2,1901.3V1815.4H1360.2V1901.3zM1363,1901.3V1813.9H1366V1901.3zM1368.9,1901.3V1816.7H1371.8V1901.3zM1374.7,1901.3V1821H1377.6V1901.3zM1380.5,1901.3V1823.4H1383.5V1901.3zM1386.3,1901.3V1814.9H1389.3V1901.3zM1392.2,1901.3V1804.4H1395.1V1901.3zM1398,1901.3V1795.1H1400.9V1901.3zM1403.8,1901.3V1787.4H1406.8V1901.3zM1409.6,1901.3V1778.7H1412.6V1901.3zM1415.5,1901.3V1781.8H1418.4V1901.3zM1421.3,1901.3V1805.8H1424.3V1901.3zM1427.1,1901.3V1835.5H1430.1V1901.3zM1433,1901.3V1860.7H1435.9V1901.3zM1501.5,1901.3V1778H1504.4V1901.3zM1507.3,1901.3V1767.9H1510.2V1901.3zM1513.1,1901.3V1735.5H1516V1901.3zM1518.9,1901.3V1685.5H1521.8V1901.3zM1524.7,1901.3V1632.1H1527.6V1901.3zM1530.5,1901.3V1604.6H1533.4V1901.3zM1536.3,1901.3V1636.7H1539.2V1901.3zM1542.1,1901.3V1747.7H1545V1901.3zM1547.9,1901.3V1812.8H1550.8V1901.3zM1553.7,1901.3V1812.8H1556.6V1901.3zM1559.5,1901.3V1824.6H1562.4V1901.3zM1565.3,1901.3V1819.9H1568.2V1901.3zM1571.1,1901.3V1800.3H1574V1901.3zM1576.9,1901.3V1792.7H1579.8V1901.3zM1582.7,1901.3V1816.1H1585.6V1901.3zM1588.5,1901.3V1862.6H1591.4V1901.3zM1652.5,1901.3V1866H1655.5V1901.3zM1658.5,1901.3V1852.6H1661.4V1901.3zM1664.5,1901.3V1845.8H1667.4V1901.3zM1670.4,1901.3V1850H1673.4V1901.3zM1676.4,1901.3V1863.4H1679.3V1901.3zM1682.4,1901.3V1873.2H1685.3V1901.3zM1688.3,1901.3V1874.9H1691.3V1901.3zM1768.4,1901.3V1871.7H1771.3V1901.3zM1773.8,1901.3V1876.5H1776.7V1901.3zM1779.2,1901.3V1877.6H1782.1V1901.3z" fill="#a0a0a0"/>
<path d="M304.2,1901.3V1875.8H307.1V1901.3zM309.9,1901.3V1871.7H312.8V1901.3zM315.6,1901.3V1870.5H318.5V1901.3zM321.3,1901.3V1875.7H324.2V1901.3zM327,1901.3V1877.8H329.9V1901.3zM332.7,1901.3V1877.6H335.6V1901.3zM364.8,1901.3V1874.2H367.7V1901.3zM370.6,1901.3V1878.3H373.6V1901.3zM376.5,1901.3V1876.5H379.5V1901.3zM382.4,1901.3V1875.5H385.4V1901.3zM399.8,1901.3V1866.4H402.8V1901.3zM405.3,1901.3V1858.3H408.3V1901.3zM410.8,1901.3V1862H413.8V1901.3zM416.3,1901.3V1871.6H419.3V1901.3zM421.8,1901.3V1877.2H424.8V1901.3zM438.2,1901.3V1804.5H441.2V1901.3zM444.2,1901.3V1816.6H447.1V1901.3zM450.1,1901.3V1848.6H453.1V1901.3zM461.4,1901.3V1832.8H464.4V1901.3zM467.4,1901.3V1818.5H470.3V1901.3zM473.4,1901.3V1833.2H476.3V1901.3zM479.3,1901.3V1857.8H482.3V1901.3zM507.4,1901.3V1772.7H510.4V1901.3zM513.1,1901.3V1525.1H516.1V1901.3zM518.9,1901.3V1423.6H521.8V1901.3zM524.6,1901.3V1514.1H527.5V1901.3zM530.3,1901.3V1719H533.2V1901.3zM536,1901.3V1665.5H539V1901.3zM541.7,1901.3V1610.1H544.7V1901.3zM547.4,1901.3V1699.5H550.4V1901.3zM553.2,1901.3V1804.6H556.1V1901.3zM558.9,1901.3V1861.3H561.8V1901.3zM564.6,1901.3V1870.7H567.5V1901.3zM600.2,1901.3V1870.4H603.1V1901.3zM605.8,1901.3V1872.7H608.7V1901.3zM611.3,1901.3V1866.3H614.3V1901.3zM626.5,1901.3V1837.7H629.5V1901.3zM632.2,1901.3V1811.3H635.2V1901.3zM637.9,1901.3V1789.3H640.9V1901.3zM643.6,1901.3V1798.8H646.6V1901.3zM649.3,1901.3V1831.7H652.2V1901.3zM655,1901.3V1858H658V1901.3zM678.8,1901.3V1864.8H681.7V1901.3zM684.5,1901.3V1797.2H687.4V1901.3zM690.2,1901.3V1720.6H693.1V1901.3zM707.7,1901.3V1837.6H710.6V1901.3zM713.4,1901.3V1809.5H716.4V1901.3zM719.1,1901.3V1777.6H722.1V1901.3zM724.9,1901.3V1793.3H727.8V1901.3zM765,1901.3V1732.1H767.9V1901.3zM770.7,1901.3V1687.4H773.7V1901.3zM776.5,1901.3V1688.8H779.5V1901.3zM782.3,1901.3V1762.1H785.2V1901.3zM788.1,1901.3V1858H791V1901.3zM824.1,1901.3V1853.1H827V1901.3zM829.8,1901.3V1842.1H832.8V1901.3zM835.5,1901.3V1840.2H838.5V1901.3zM841.2,1901.3V1851.1H844.1V1901.3zM846.9,1901.3V1866.8H849.9V1901.3zM852.6,1901.3V1874.9H855.6V1901.3zM882.2,1901.3V1841.3H885.2V1901.3zM887.8,1901.3V1796.6H890.8V1901.3zM893.4,1901.3V1760.1H896.4V1901.3zM899,1901.3V1795H902V1901.3zM904.6,1901.3V1823.2H907.6V1901.3zM932.7,1901.3V1846.9H935.7V1901.3zM938.6,1901.3V1752.3H941.6V1901.3zM944.5,1901.3V1712.5H947.5V1901.3zM950.4,1901.3V1752.1H953.4V1901.3zM956.4,1901.3V1797.4H959.3V1901.3zM962.3,1901.3V1837.7H965.2V1901.3zM968.2,1901.3V1863.5H971.1V1901.3zM1003.9,1901.3V1883.3H1006.9V1901.3zM1009.6,1901.3V1873.6H1012.6V1901.3zM1015.3,1901.3V1869.3H1018.3V1901.3zM1021,1901.3V1878.8H1024V1901.3zM1084.7,1901.3V1863.2H1087.6V1901.3zM1090.6,1901.3V1828.7H1093.5V1901.3zM1096.4,1901.3V1806.1H1099.4V1901.3zM1102.3,1901.3V1809.8H1105.3V1901.3zM1108.2,1901.3V1836.4H1111.1V1901.3zM1114.1,1901.3V1874H1117V1901.3zM1146.4,1901.3V1865H1149.3V1901.3zM1152,1901.3V1855.7H1155V1901.3zM1157.7,1901.3V1861.5H1160.6V1901.3zM1163.3,1901.3V1877.5H1166.3V1901.3zM1198.6,1901.3V1855.4H1201.6V1901.3zM1204.6,1901.3V1851H1207.5V1901.3zM1210.5,1901.3V1846.6H1213.5V1901.3zM1248.8,1901.3V1858.9H1251.8V1901.3zM1254.8,1901.3V1823.6H1257.7V1901.3zM1260.7,1901.3V1789H1263.7V1901.3zM1266.7,1901.3V1777.5H1269.6V1901.3zM1272.7,1901.3V1788.9H1275.6V1901.3zM1278.6,1901.3V1819.4H1281.6V1901.3zM1284.6,1901.3V1844.7H1287.5V1901.3zM1290.5,1901.3V1871.1H1293.5V1901.3zM1354.3,1901.3V1822.8H1357.2V1901.3zM1360.1,1901.3V1814.6H1363.1V1901.3zM1365.9,1901.3V1814.8H1368.9V1901.3zM1371.8,1901.3V1818.7H1374.7V1901.3zM1377.6,1901.3V1823.4H1380.6V1901.3zM1383.4,1901.3V1819.2H1386.4V1901.3zM1389.3,1901.3V1809.7H1392.2V1901.3zM1395.1,1901.3V1799.2H1398V1901.3zM1400.9,1901.3V1791.3H1403.9V1901.3zM1406.7,1901.3V1783.1H1409.7V1901.3zM1412.6,1901.3V1777H1415.5V1901.3zM1418.4,1901.3V1790.2H1421.3V1901.3zM1424.2,1901.3V1821H1427.2V1901.3zM1430,1901.3V1848.9H1433V1901.3zM1435.9,1901.3V1867.7H1438.8V1901.3zM1504.4,1901.3V1773H1507.3V1901.3zM1510.2,1901.3V1752.7H1513.1V1901.3zM1516,1901.3V1700.6H1518.9V1901.3zM1521.8,1901.3V1665.7H1524.7V1901.3zM1527.6,1901.3V1612.1H1530.5V1901.3zM1533.4,1901.3V1611.6H1536.3V1901.3zM1539.2,1901.3V1698H1542.1V1901.3zM1545,1901.3V1788.1H1547.9V1901.3zM1550.8,1901.3V1812.8H1553.7V1901.3zM1556.6,1901.3V1816.9H1559.5V1901.3zM1562.4,1901.3V1827.7H1565.3V1901.3zM1568.2,1901.3V1811.8H1571.1V1901.3zM1574,1901.3V1788.8H1576.9V1901.3zM1579.8,1901.3V1799.3H1582.7V1901.3zM1585.6,1901.3V1839.4H1588.5V1901.3zM1591.4,1901.3V1874.9H1594.3V1901.3zM1655.5,1901.3V1856.1H1658.5V1901.3zM1661.5,1901.3V1849.2H1664.4V1901.3zM1667.4,1901.3V1847.4H1670.4V1901.3zM1673.4,1901.3V1856H1676.4V1901.3zM1679.4,1901.3V1868.4H1682.3V1901.3zM1685.3,1901.3V1874H1688.3V1901.3zM1765.7,1901.3V1871.2H1768.6V1901.3zM1771.1,1901.3V1872.8H1774V1901.3zM1776.5,1901.3V1877.6H1779.4V1901.3z" fill="#858585"/>
<line x1="294.8" y1="1144.7" x2="294.8" y2="1914" stroke="#a9a9a9" stroke-width="3"/>
<line x1="283.4" y1="1178" x2="294.8" y2="1178" stroke="#a9a9a9" stroke-width="3"/>
<text x="258" y="1195" font-size="34" text-anchor="end" textLength="50" lengthAdjust="spacingAndGlyphs">0.6</text>
<line x1="283.4" y1="1322.3" x2="294.8" y2="1322.3" stroke="#a9a9a9" stroke-width="3"/>
<text x="258" y="1339.3" font-size="34" text-anchor="end" textLength="50" lengthAdjust="spacingAndGlyphs">0.2</text>
<line x1="283.4" y1="1466.7" x2="294.8" y2="1466.7" stroke="#a9a9a9" stroke-width="3"/>
<text x="258" y="1483.7" font-size="34" text-anchor="end" textLength="61.5" lengthAdjust="spacingAndGlyphs">-0.2</text>
<line x1="283.4" y1="1611" x2="294.8" y2="1611" stroke="#a9a9a9" stroke-width="3"/>
<text x="258" y="1628" font-size="34" text-anchor="end" textLength="61.5" lengthAdjust="spacingAndGlyphs">-0.6</text>
<line x1="283.4" y1="1755.3" x2="294.8" y2="1755.3" stroke="#a9a9a9" stroke-width="3"/>
<text x="258" y="1772.3" font-size="34" text-anchor="end" textLength="61.5" lengthAdjust="spacingAndGlyphs">-1.0</text>
<line x1="283.4" y1="1899.7" x2="294.8" y2="1899.7" stroke="#a9a9a9" stroke-width="3"/>
<text x="258" y="1916.7" font-size="34" text-anchor="end" textLength="61.5" lengthAdjust="spacingAndGlyphs">-1.4</text>
<line x1="283.4" y1="1901.3" x2="1803.2" y2="1901.3" stroke="#a9a9a9" stroke-width="3"/>
<line x1="294.5" y1="1901.3" x2="294.5" y2="1913" stroke="#a9a9a9" stroke-width="3"/>
<text x="294.5" y="1966" font-size="34" text-anchor="middle" textLength="59" lengthAdjust="spacingAndGlyphs">800</text>
<line x1="444.4" y1="1901.3" x2="444.4" y2="1913" stroke="#a9a9a9" stroke-width="3"/>
<text x="444.4" y="1966" font-size="34" text-anchor="middle" textLength="59" lengthAdjust="spacingAndGlyphs">900</text>
<line x1="594.3" y1="1901.3" x2="594.3" y2="1913" stroke="#a9a9a9" stroke-width="3"/>
<text x="594.3" y="1966" font-size="34" text-anchor="middle" textLength="78" lengthAdjust="spacingAndGlyphs">1000</text>
<line x1="744.2" y1="1901.3" x2="744.2" y2="1913" stroke="#a9a9a9" stroke-width="3"/>
<text x="744.2" y="1966" font-size="34" text-anchor="middle" textLength="78" lengthAdjust="spacingAndGlyphs">1100</text>
<line x1="894.1" y1="1901.3" x2="894.1" y2="1913" stroke="#a9a9a9" stroke-width="3"/>
<text x="894.1" y="1966" font-size="34" text-anchor="middle" textLength="78" lengthAdjust="spacingAndGlyphs">1200</text>
<line x1="1044" y1="1901.3" x2="1044" y2="1913" stroke="#a9a9a9" stroke-width="3"/>
<text x="1044" y="1966" font-size="34" text-anchor="middle" textLength="78" lengthAdjust="spacingAndGlyphs">1300</text>
<line x1="1193.9" y1="1901.3" x2="1193.9" y2="1913" stroke="#a9a9a9" stroke-width="3"/>
<text x="1193.9" y="1966" font-size="34" text-anchor="middle" textLength="78" lengthAdjust="spacingAndGlyphs">1400</text>
<line x1="1343.8" y1="1901.3" x2="1343.8" y2="1913" stroke="#a9a9a9" stroke-width="3"/>
<text x="1343.8" y="1966" font-size="34" text-anchor="middle" textLength="78" lengthAdjust="spacingAndGlyphs">1500</text>
<line x1="1493.7" y1="1901.3" x2="1493.7" y2="1913" stroke="#a9a9a9" stroke-width="3"/>
<text x="1493.7" y="1966" font-size="34" text-anchor="middle" textLength="78" lengthAdjust="spacingAndGlyphs">1600</text>
<line x1="1643.6" y1="1901.3" x2="1643.6" y2="1913" stroke="#a9a9a9" stroke-width="3"/>
<text x="1643.6" y="1966" font-size="34" text-anchor="middle" textLength="78" lengthAdjust="spacingAndGlyphs">1700</text>
<line x1="1793.5" y1="1901.3" x2="1793.5" y2="1913" stroke="#a9a9a9" stroke-width="3"/>
<text x="1793.5" y="1966" font-size="34" text-anchor="middle" textLength="78" lengthAdjust="spacingAndGlyphs">1800</text>
<line x1="1792.7" y1="1349.8" x2="1792.7" y2="1913" stroke="#a9a9a9" stroke-width="3"/>
<line x1="1792.7" y1="1901.5" x2="1803.2" y2="1901.5" stroke="#a9a9a9" stroke-width="3"/>
<text x="1828" y="1918.5" font-size="34" text-anchor="start" textLength="49" lengthAdjust="spacingAndGlyphs">0.0</text>
<line x1="1792.7" y1="1791.2" x2="1803.2" y2="1791.2" stroke="#a9a9a9" stroke-width="3"/>
<text x="1828" y="1808.2" font-size="34" text-anchor="start" textLength="49" lengthAdjust="spacingAndGlyphs">0.1</text>
<line x1="1792.7" y1="1680.8" x2="1803.2" y2="1680.8" stroke="#a9a9a9" stroke-width="3"/>
<text x="1828" y="1697.8" font-size="34" text-anchor="start" textLength="49" lengthAdjust="spacingAndGlyphs">0.2</text>
<line x1="1792.7" y1="1570.5" x2="1803.2" y2="1570.5" stroke="#a9a9a9" stroke-width="3"/>
<text x="1828" y="1587.5" font-size="34" text-anchor="start" textLength="49" lengthAdjust="spacingAndGlyphs">0.3</text>
<line x1="1792.7" y1="1460.1" x2="1803.2" y2="1460.1" stroke="#a9a9a9" stroke-width="3"/>
<text x="1828" y="1477.1" font-size="34" text-anchor="start" textLength="49" lengthAdjust="spacingAndGlyphs">0.4</text>
<line x1="1792.7" y1="1349.8" x2="1803.2" y2="1349.8" stroke="#a9a9a9" stroke-width="3"/>
<text x="1828" y="1366.8" font-size="34" text-anchor="start" textLength="49" lengthAdjust="spacingAndGlyphs">0.5</text>
<text x="157" y="1862.7" font-size="38.5" text-anchor="start" textLength="624" lengthAdjust="spacingAndGlyphs" transform="rotate(-90 157 1862.7)">second derivative (average, x10000)</text>
<text x="1943" y="1885.9" font-size="38.5" text-anchor="start" textLength="477.7" lengthAdjust="spacingAndGlyphs" transform="rotate(-90 1943 1885.9)">standard deviaton (x10000)</text>
<text x="881.9" y="2037" font-size="38.5" textLength="309" lengthAdjust="spacingAndGlyphs">Wavenumber (cm</text>
<text x="1195" y="2021.5" font-size="25" textLength="24" lengthAdjust="spacingAndGlyphs">-1</text>
<text x="1221.5" y="2037" font-size="38.5">)</text>
<line x1="872.4" y1="1174.5" x2="872.4" y2="1901.3" stroke="#6c6c6c" stroke-width="4" stroke-dasharray="17 6"/>
<line x1="1043.6" y1="1174.5" x2="1043.6" y2="1901.3" stroke="#6c6c6c" stroke-width="4" stroke-dasharray="17 6"/>
<line x1="1327.5" y1="1174.5" x2="1327.5" y2="1901.3" stroke="#6c6c6c" stroke-width="4" stroke-dasharray="17 6"/>
<line x1="1475.6" y1="1174.5" x2="1475.6" y2="1901.3" stroke="#6c6c6c" stroke-width="4" stroke-dasharray="17 6"/>
<line x1="1647.1" y1="1174.5" x2="1647.1" y2="1901.3" stroke="#6c6c6c" stroke-width="4" stroke-dasharray="17 6"/>
<path d="M295.3,1381.8 C297,1384.5 301.1,1392.3 304.7,1396.6 C308.3,1400.9 311.5,1404.6 315.2,1405 C318.9,1405.4 320.1,1403.5 324.7,1398.7 C329.3,1393.9 334.8,1381 340.4,1378.7 C346,1376.4 349.7,1382.2 355.1,1386 C360.5,1389.8 365.6,1398.5 369.8,1399.7 C374,1400.9 375.1,1395.3 378.2,1392.4 C381.3,1389.5 383.9,1384.4 386.6,1384 C389.3,1383.6 389.2,1383.2 392.9,1390.3 C396.6,1397.4 402.4,1419.7 406.6,1422.8 C410.8,1425.9 412.1,1415.4 416,1407.1 C419.9,1398.8 423.7,1380.7 427.6,1377.6 C431.5,1374.5 434.2,1386.2 437.1,1390.3 C440,1394.4 439.5,1400.9 443.4,1399.7 C447.2,1398.5 453.9,1386.1 458.1,1384 C462.3,1381.9 463,1384.9 466.5,1388.2 C470,1391.5 472,1403.9 477,1401.8 C482,1399.7 489.2,1379.1 493.8,1376.6 C498.4,1374.1 498,1381.1 502.2,1388.2 C506.4,1395.3 512.3,1414.3 516.9,1415.5 C521.5,1416.7 523.7,1401.4 527.4,1394.5 C531.1,1387.6 533.4,1377.6 536.9,1377.6 C540.4,1377.6 542.7,1387.4 546.3,1394.5 C549.9,1401.6 552.9,1416.9 556.8,1416.5 C560.6,1416.1 563.6,1399.3 567.3,1392.4 C571,1385.5 572.6,1379.1 576.8,1378.7 C581,1378.3 585.2,1385.3 590.4,1390.3 C595.6,1395.3 600.9,1406 605.1,1406 C609.3,1406 610.4,1398.2 613.5,1390.3 C616.6,1382.4 619.2,1365.2 621.9,1362.9 C624.6,1360.6 625.9,1365.7 628.2,1377.6 C630.5,1389.5 632,1411 634.5,1428 C637,1445 639.2,1468.2 641.9,1470.1 C644.6,1472 646.3,1457.9 649.2,1438.6 C652.1,1419.3 654.7,1385.4 657.6,1365 C660.5,1344.6 662.3,1330.3 665,1327.2 C667.7,1324.1 669.9,1335.5 672.4,1348.2 C674.9,1360.9 676.8,1385.2 678.7,1396.6 C680.6,1408 681.5,1408.7 682.9,1410.2 C684.3,1411.7 684.9,1408.3 686.3,1405 C687.7,1401.7 688.6,1395.1 690.5,1392.4 C692.4,1389.7 694.5,1386.8 696.8,1390.3 C699.1,1393.8 700.8,1400.5 703.1,1411.3 C705.4,1422.1 707.1,1436.8 709.4,1449.1 C711.7,1461.4 713.4,1477.3 715.7,1478.5 C718,1479.7 719.7,1472.4 722,1455.4 C724.3,1438.4 725.8,1408 728.3,1386 C730.8,1364 733.2,1343.7 735.7,1335.6 C738.2,1327.5 739.9,1336.5 742,1341.9 C744.1,1347.3 745.3,1356.9 747.2,1365 C749.1,1373.1 749.8,1382.3 752.5,1386 C755.2,1389.7 758.6,1382.7 761.9,1385 C765.2,1387.3 767.2,1395.2 770.3,1398.7 C773.4,1402.2 775.6,1404.7 778.7,1403.9 C781.8,1403.1 783.6,1402 787.1,1394.5 C790.6,1387 793.7,1372.3 797.6,1362.9 C801.5,1353.5 804.7,1344.9 808.2,1343 C811.7,1341.1 813.5,1341.4 816.6,1352.4 C819.7,1363.4 821.9,1385.9 825,1402.9 C828.1,1419.9 830.9,1434.9 833.4,1444.9 C835.9,1454.9 836.3,1458.3 838.6,1457.5 C840.9,1456.7 842.7,1453 846,1440.7 C849.3,1428.4 853,1404.9 856.5,1390.3 C860,1375.7 862,1368.5 864.9,1360.8 C867.8,1353.1 869.5,1346.7 872.2,1348.2 C874.9,1349.7 876.7,1356.1 879.6,1369.2 C882.5,1382.3 885.1,1403.5 888,1419.7 C890.9,1435.9 892.6,1452.9 895.3,1457.5 C898,1462.1 899.8,1459.9 902.7,1444.9 C905.6,1429.9 908,1397.8 911.1,1375.5 C914.2,1353.2 916.6,1330.3 919.5,1323 C922.4,1315.7 924.1,1324 926.8,1335.6 C929.5,1347.1 931.3,1363.3 934.2,1386 C937.1,1408.7 939.5,1438 942.6,1459.6 C945.7,1481.2 947.9,1499.5 951,1503.7 C954.1,1507.9 955.9,1500.4 959.4,1482.7 C962.9,1465 966.4,1429.4 969.9,1407.1 C973.4,1384.8 975.6,1370.4 978.3,1360.8 C981,1351.2 981.1,1353.7 984.6,1354.5 C988.1,1355.3 993.7,1360.8 997.2,1365 C1000.7,1369.2 1001.2,1369.1 1003.5,1377.6 C1005.8,1386.1 1007.3,1401.3 1009.8,1411.3 C1012.3,1421.3 1014.5,1432.3 1017.2,1432.3 C1019.9,1432.3 1021.2,1425.6 1024.5,1411.3 C1027.8,1397 1032.1,1368.4 1035,1354.5 C1037.9,1340.6 1038,1336.8 1040.3,1335.6 C1042.6,1334.4 1045.1,1340.9 1047.6,1348.2 C1050.1,1355.5 1051.6,1369.7 1053.9,1375.5 C1056.2,1381.3 1057.6,1382 1060.3,1379.7 C1063,1377.4 1066,1367.4 1068.7,1363 C1071.5,1358.6 1072.8,1351.9 1075.3,1355.5 C1077.8,1359.1 1079.7,1363.2 1082.6,1382.8 C1085.5,1402.4 1087.7,1436 1091,1462.6 C1094.3,1489.2 1097.2,1525.8 1100.5,1527.7 C1103.8,1529.6 1106,1502.4 1108.9,1473.1 C1111.8,1443.8 1113.3,1398.1 1116.2,1368.1 C1119.1,1338.1 1121.9,1323.5 1124.6,1309.2 C1127.3,1294.9 1128.2,1288 1130.9,1290.3 C1133.6,1292.6 1136.2,1305.6 1139.3,1321.8 C1142.4,1338 1145,1361.3 1147.7,1378.6 C1150.4,1395.9 1151.7,1407.7 1154,1416.4 C1156.3,1425.1 1157.6,1426.6 1160.3,1425.8 C1163,1425 1165.6,1420.9 1168.7,1412.2 C1171.8,1403.5 1174.2,1389 1177.1,1378.6 C1180,1368.2 1182,1357.4 1184.5,1355.5 C1187,1353.6 1188.7,1360 1190.8,1368.1 C1192.9,1376.2 1193.9,1384.6 1196,1399.6 C1198.1,1414.6 1200.5,1438.8 1202.4,1450 C1204.3,1461.2 1204.7,1462 1206.6,1460.5 C1208.5,1459 1210.2,1458.5 1212.9,1441.6 C1215.6,1424.7 1218.6,1389.7 1221.3,1368.1 C1224,1346.5 1225.5,1333.9 1227.6,1323.9 C1229.7,1313.9 1230.5,1312.2 1232.8,1313.4 C1235.1,1314.6 1237.7,1322.2 1240.2,1330.3 C1242.7,1338.4 1244.2,1346.8 1246.5,1357.6 C1248.8,1368.4 1250.5,1373.7 1252.8,1389.1 C1255.1,1404.5 1256.8,1420.4 1259.1,1441.6 C1261.4,1462.8 1263.1,1487.7 1265.4,1504.6 C1267.7,1521.5 1269.2,1533.2 1271.7,1534 C1274.2,1534.8 1276.3,1525.7 1279,1508.8 C1281.7,1491.9 1283.9,1462.4 1286.4,1441.6 C1288.9,1420.8 1290.4,1408.1 1292.7,1395.4 C1295,1382.7 1296.7,1381.9 1299,1372.3 C1301.3,1362.7 1303,1357.2 1305.3,1342.9 C1307.6,1328.6 1309.5,1313 1311.6,1294.5 C1313.7,1276 1314.9,1255.1 1316.8,1242 C1318.7,1228.9 1320.2,1226.6 1322.1,1223.1 C1324,1219.6 1325.1,1219.6 1327.4,1223.1 C1329.7,1226.6 1331.8,1231.6 1334.7,1242 C1337.6,1252.4 1340.4,1267.1 1343.1,1279.8 C1345.8,1292.5 1347.1,1295.1 1349.4,1311.3 C1351.7,1327.5 1353,1346.1 1355.7,1368.1 C1358.4,1390.1 1361.4,1411.5 1364.1,1431.1 C1366.8,1450.7 1367.3,1466.7 1370.4,1475.2 C1373.5,1483.7 1377.8,1476.1 1380.9,1477.3 C1384,1478.5 1384.9,1476.5 1387.2,1481.5 C1389.5,1486.5 1390.8,1496.5 1393.5,1504.6 C1396.2,1512.7 1399.2,1520.6 1401.9,1525.6 C1404.6,1530.6 1405.7,1528.9 1408.2,1532 C1410.7,1535.1 1412.5,1542 1415.6,1542.4 C1418.7,1542.8 1422.1,1542.9 1425,1534 C1427.9,1525.1 1429,1513 1431.3,1494.1 C1433.6,1475.2 1435.3,1454.2 1437.6,1431.1 C1439.9,1408 1441.7,1395.1 1444,1368.1 C1446.3,1341.1 1448,1309 1450.3,1284 C1452.6,1259 1454.5,1248 1456.6,1231.5 C1458.7,1215 1459.5,1205.2 1461.6,1193.9 C1463.7,1182.6 1465.6,1175.5 1468,1170 C1470.4,1164.5 1472.3,1163.7 1474.5,1163.7 C1476.7,1163.7 1478,1166.4 1480,1170 C1482,1173.6 1483.1,1175.5 1485.3,1183.1 C1487.5,1190.7 1489.4,1197 1491.8,1211.2 C1494.2,1225.4 1495.8,1240.2 1498.2,1260.8 C1500.6,1281.4 1502.3,1298 1504.7,1323.3 C1507.1,1348.6 1508.8,1355.4 1511.2,1398.8 C1513.6,1442.2 1515.5,1513.8 1517.7,1560 C1519.9,1606.2 1521.1,1624.4 1523.1,1651 C1525.1,1677.6 1526.5,1692.7 1528.5,1705 C1530.5,1717.3 1532,1717.9 1533.8,1717.9 C1535.6,1717.9 1536.8,1717.3 1538.2,1705 C1539.6,1692.7 1540,1672.8 1541.4,1651 C1542.8,1629.2 1544.3,1610.3 1545.7,1586.3 C1547.1,1562.3 1547.8,1538.6 1549,1520 C1550.2,1501.4 1550.4,1496.6 1552.2,1485.1 C1554,1473.6 1556.2,1459.1 1558.6,1457.1 C1561,1455.1 1562.6,1465.5 1565.1,1474.3 C1567.6,1483.1 1569.6,1496.7 1572,1505 C1574.4,1513.3 1575.3,1523.2 1578,1519.6 C1580.7,1516 1583.5,1507.2 1586.7,1485.1 C1589.9,1463 1591.7,1428.5 1595.3,1398.8 C1598.9,1369.1 1602.7,1341.9 1606.1,1323.3 C1609.5,1304.7 1610.8,1299.5 1613.6,1297.5 C1616.4,1295.5 1618.4,1307.1 1621.2,1312.6 C1624,1318.1 1625.9,1327.7 1628.7,1327.7 C1631.5,1327.7 1633.7,1320.9 1636.3,1312.6 C1638.9,1304.3 1640.7,1289.4 1642.8,1282.4 C1644.9,1275.4 1645.6,1273 1647.6,1274.3 C1649.6,1275.6 1651.8,1280.8 1653.9,1289.5 C1656,1298.2 1657.5,1306.1 1659.3,1321.9 C1661.1,1337.7 1662.1,1357.7 1663.8,1375.8 C1665.5,1393.9 1666.5,1406.7 1668.3,1420.7 C1670.1,1434.7 1671.7,1447.6 1673.7,1452.2 C1675.7,1456.8 1677.1,1451.7 1679.1,1445.9 C1681.1,1440.1 1682.5,1429.3 1684.5,1420.7 C1686.5,1412.1 1686.8,1405 1689.8,1399.1 C1692.8,1393.2 1696.6,1391.7 1700.6,1388.4 C1704.6,1385.1 1707.4,1385.2 1711.4,1381.2 C1715.4,1377.2 1718.2,1370.3 1722.2,1366.8 C1726.2,1363.3 1729,1361.6 1733,1362.3 C1737,1363 1739.2,1367.3 1743.8,1370.4 C1748.4,1373.5 1754.2,1376.4 1758.1,1379.4 C1762,1382.4 1762.3,1383.5 1765.3,1386.6 C1768.3,1389.7 1770.7,1394.8 1774.3,1396.5 C1777.9,1398.2 1781.3,1396.3 1785.1,1395.6 C1788.9,1394.9 1793.2,1393.4 1795,1392.9" fill="none" stroke="#000" stroke-width="6.2" stroke-linejoin="round" stroke-linecap="round"/>
<text x="530.5" y="1369.2" font-size="35" text-anchor="start" font-weight="bold" fill="#000" textLength="55.6" lengthAdjust="spacingAndGlyphs" transform="rotate(-90 530.5 1369.2)">947</text>
<text x="565.1" y="1485.8" font-size="35" text-anchor="start" font-weight="bold" fill="#000" textLength="54.6" lengthAdjust="spacingAndGlyphs" transform="rotate(-90 565.1 1485.8)">974</text>
<text x="655.6" y="1567.6" font-size="35" text-anchor="start" font-weight="bold" fill="#000" textLength="77.6" lengthAdjust="spacingAndGlyphs" transform="rotate(-90 655.6 1567.6)">1030</text>
<text x="706.2" y="1371.3" font-size="35" text-anchor="start" font-weight="bold" fill="#000" textLength="74.5" lengthAdjust="spacingAndGlyphs" transform="rotate(-90 706.2 1371.3)">1059</text>
<text x="726.5" y="1579" font-size="35" text-anchor="start" font-weight="bold" fill="#000" textLength="74.3" lengthAdjust="spacingAndGlyphs" transform="rotate(-90 726.5 1579)">1080</text>
<text x="789.1" y="1497.4" font-size="35" text-anchor="start" font-weight="bold" fill="#000" textLength="75.6" lengthAdjust="spacingAndGlyphs" transform="rotate(-90 789.1 1497.4)">1121</text>
<text x="846.9" y="1548.9" font-size="35" text-anchor="start" font-weight="bold" fill="#000" textLength="75.7" lengthAdjust="spacingAndGlyphs" transform="rotate(-90 846.9 1548.9)">1161</text>
<text x="908.9" y="1548.9" font-size="35" text-anchor="start" font-weight="bold" fill="#000" textLength="75.7" lengthAdjust="spacingAndGlyphs" transform="rotate(-90 908.9 1548.9)">1200</text>
<text x="960" y="1603.7" font-size="35" text-anchor="start" font-weight="bold" fill="#000" textLength="76.2" lengthAdjust="spacingAndGlyphs" transform="rotate(-90 960 1603.7)">1236</text>
<text x="1026.5" y="1523.7" font-size="35" text-anchor="start" font-weight="bold" fill="#000" textLength="74.7" lengthAdjust="spacingAndGlyphs" transform="rotate(-90 1026.5 1523.7)">1281</text>
<text x="1116.6" y="1629.3" font-size="35" text-anchor="start" font-weight="bold" fill="#000" textLength="74.1" lengthAdjust="spacingAndGlyphs" transform="rotate(-90 1116.6 1629.3)">1337</text>
<text x="1170.7" y="1519.3" font-size="35" text-anchor="start" font-weight="bold" fill="#000" textLength="74.6" lengthAdjust="spacingAndGlyphs" transform="rotate(-90 1170.7 1519.3)">1375</text>
<text x="1217.5" y="1567.6" font-size="35" text-anchor="start" font-weight="bold" fill="#000" textLength="76.6" lengthAdjust="spacingAndGlyphs" transform="rotate(-90 1217.5 1567.6)">1406</text>
<text x="1284.1" y="1661.6" font-size="35" text-anchor="start" font-weight="bold" fill="#000" textLength="76.9" lengthAdjust="spacingAndGlyphs" transform="rotate(-90 1284.1 1661.6)">1450</text>
<text x="1400.8" y="1461.6" font-size="35" text-anchor="start" font-weight="bold" fill="#000" textLength="75.6" lengthAdjust="spacingAndGlyphs" transform="rotate(-90 1400.8 1461.6)">1522</text>
<text x="1428.5" y="1642.6" font-size="35" text-anchor="start" font-weight="bold" fill="#000" textLength="74.1" lengthAdjust="spacingAndGlyphs" transform="rotate(-90 1428.5 1642.6)">1545</text>
<text x="1549.6" y="1457.1" font-size="35" text-anchor="start" font-weight="bold" fill="#000" textLength="74.4" lengthAdjust="spacingAndGlyphs" transform="rotate(-90 1549.6 1457.1)">1624</text>
<text x="1592.1" y="1617.6" font-size="35" text-anchor="start" font-weight="bold" fill="#000" textLength="74.5" lengthAdjust="spacingAndGlyphs" transform="rotate(-90 1592.1 1617.6)">1655</text>
<text x="1643.4" y="1431.2" font-size="35" text-anchor="start" font-weight="bold" fill="#000" textLength="75.5" lengthAdjust="spacingAndGlyphs" transform="rotate(-90 1643.4 1431.2)">1690</text>
<text x="1693" y="1552" font-size="35" text-anchor="start" font-weight="bold" fill="#000" textLength="77.7" lengthAdjust="spacingAndGlyphs" transform="rotate(-90 1693 1552)">1719</text>
</svg></body></html>
